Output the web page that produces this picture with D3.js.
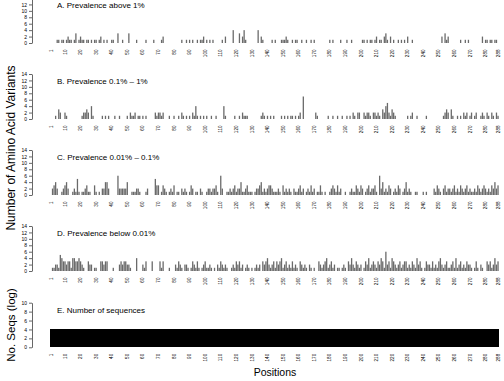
<!DOCTYPE html>
<html>
<head>
<meta charset="utf-8">
<script src="https://cdn.jsdelivr.net/npm/d3@7"></script>
<style>
  body { margin: 0; background: #fff; }
  svg text { font-family: "Liberation Sans", Arial, sans-serif; }
</style>
</head>
<body>
<div id="chart"></div>
<script>
const W = 504, H = 381;

// positions 1..288, tick labels along the bottom of each panel
const xTicks = [1, 10, 20, 30, 40, 50, 60, 70, 80, 90, 100, 110, 120, 130, 140, 150, 160, 170, 180, 190, 200, 210, 220, 230, 240, 250, 260, 270, 280, 288];

const titles = ['A. Prevalence above 1%', 'B. Prevalence 0.1% \u2013 1%', 'C. Prevalence 0.01% \u2013 0.1%', 'D. Prevalence below 0.01%', 'E. Number of sequences'];

// number of amino acid variants per position (24 per row)
const prevAbove1 = [
  0,0,0,0,1,1,0,1,1,0,1,2,1,1,0,1,3,0,1,2,1,1,0,1,
  1,0,1,0,1,1,0,1,2,0,1,0,1,0,0,1,1,0,0,3,0,0,1,0,
  0,0,3,0,0,0,0,1,0,0,0,0,0,1,0,0,0,0,1,0,0,0,0,1,
  2,0,0,0,0,0,0,0,0,0,0,0,1,0,0,1,0,1,0,1,0,0,1,0,
  1,1,2,0,1,0,1,0,1,0,0,0,0,0,1,0,2,0,0,0,0,4,0,0,
  0,3,0,2,4,1,0,0,0,0,0,0,0,4,0,2,1,0,0,0,0,0,1,0,
  1,0,0,0,1,1,1,2,1,0,0,1,0,1,1,0,0,1,0,0,1,0,0,1,
  0,1,0,0,0,0,0,0,0,0,0,1,0,1,0,0,0,0,1,0,0,0,1,0,
  0,1,0,0,0,0,0,0,1,1,0,1,0,1,1,0,1,2,0,1,1,0,2,3,
  1,0,2,0,1,0,0,1,0,1,0,1,0,2,0,0,1,0,0,0,0,0,0,0,
  0,0,0,0,0,0,0,0,0,0,0,2,0,3,1,2,0,0,0,0,0,0,0,1,
  0,0,1,0,1,0,0,0,0,0,0,0,0,2,0,1,1,0,1,1,0,1,1,0
];

const prev01to1 = [
  0,0,0,1,0,3,2,0,0,2,1,0,0,0,0,0,0,0,0,0,1,2,2,3,
  2,0,4,1,0,0,0,0,0,1,0,1,0,1,0,0,0,1,0,0,1,0,0,0,
  0,1,0,2,1,1,2,0,1,1,0,1,0,1,0,0,0,0,0,2,1,2,2,1,
  2,0,0,0,1,0,0,1,0,0,1,0,2,1,0,1,0,1,0,2,1,4,1,0,
  1,0,1,0,1,0,0,1,0,0,1,0,0,0,0,4,1,0,0,0,0,0,1,0,
  0,1,0,2,1,1,1,0,0,0,0,0,0,0,0,1,2,1,0,1,0,1,0,1,
  0,0,0,0,1,0,1,0,1,0,1,1,0,1,0,1,2,0,7,0,0,0,0,0,
  0,0,2,1,0,0,0,0,0,0,1,0,0,1,0,0,1,0,0,1,0,0,1,0,
  1,0,2,1,0,2,2,0,0,2,1,2,2,1,0,2,2,1,2,1,0,3,2,4,
  5,2,1,3,2,1,0,0,0,0,0,0,0,1,0,1,2,0,0,1,0,0,0,0,
  0,1,0,0,0,0,0,0,0,0,0,0,1,2,3,2,0,3,1,0,0,1,0,1,
  0,2,1,2,0,1,2,0,1,2,0,0,1,2,1,0,2,1,0,2,1,0,2,1
];

const prev001to01 = [
  0,2,3,4,2,0,0,1,2,3,4,2,0,0,1,2,1,5,1,0,1,1,2,3,
  1,1,0,0,3,1,0,1,0,2,2,4,4,2,0,0,0,0,0,6,2,2,2,2,
  2,4,0,0,1,1,1,2,2,1,0,0,0,1,2,0,0,0,0,5,3,3,0,1,
  3,2,1,0,1,2,1,3,0,1,1,0,2,1,2,1,0,1,3,2,0,1,1,0,
  2,1,0,0,1,2,2,1,2,2,3,1,0,6,2,0,0,1,1,2,1,2,3,1,
  2,2,4,1,1,2,3,1,1,1,0,1,2,2,3,4,1,2,1,2,3,3,2,1,
  1,1,2,1,0,3,1,2,1,2,1,0,2,1,1,2,3,1,2,0,1,2,1,3,
  1,2,0,1,1,3,1,0,1,0,0,1,2,3,2,1,3,1,2,0,0,1,0,0,
  1,2,1,1,3,2,1,3,2,0,1,2,3,1,2,2,3,1,0,6,2,4,1,2,
  1,3,2,0,1,2,1,3,2,0,1,2,4,1,2,1,0,0,1,1,0,0,0,1,
  0,1,0,0,0,0,2,1,3,2,1,0,2,3,1,2,2,1,2,3,1,2,1,3,
  2,1,2,3,1,2,1,1,2,1,3,2,1,2,3,2,1,2,1,3,2,4,2,3
];

const prevBelow001 = [
  0,1,1,2,2,1,5,4,3,3,2,3,3,1,4,4,3,3,4,3,2,1,0,0,
  3,2,2,0,1,1,0,0,3,3,2,3,3,0,0,0,1,0,0,0,2,3,2,3,
  3,2,2,1,0,0,0,4,0,0,0,2,1,3,0,0,0,3,0,0,0,0,3,1,
  3,0,0,0,1,0,0,0,2,1,3,2,1,0,2,2,1,0,1,3,2,1,3,1,
  0,1,2,3,1,1,2,1,0,1,0,2,1,3,2,1,2,1,0,0,1,2,1,3,
  2,3,1,2,0,1,2,1,0,1,0,1,2,1,2,0,3,2,3,4,2,1,2,3,
  1,3,2,3,4,1,2,3,1,2,1,3,1,2,1,0,3,2,1,2,1,0,2,1,
  0,1,0,0,3,2,1,2,3,4,1,2,3,1,2,0,1,1,0,1,2,1,0,3,
  2,4,2,1,3,2,1,2,0,1,3,2,4,1,2,3,2,1,3,2,4,3,1,6,
  2,3,1,4,3,2,1,2,3,1,2,3,3,1,2,1,3,2,1,4,2,3,1,0,
  1,3,2,2,1,3,1,2,1,3,4,2,1,2,3,1,1,2,3,1,4,1,2,3,
  1,2,1,3,2,2,1,0,1,3,1,0,2,1,0,0,3,2,3,1,2,4,2,3
];

// log10 of the number of sequences per position
const logSeqs = [
  4,4,4,4,4,4,4,4,4,4,4,4,4,4,4,4,4,4,4,4,4,4,4,4,
  4,4,4,4,4,4,4,4,4,4,4,4,4,4,4,4,4,4,4,4,4,4,4,4,
  4,4,4,4,4,4,4,4,4,4,4,4,4,4,4,4,4,4,4,4,4,4,4,4,
  4,4,4,4,4,4,4,4,4,4,4,4,4,4,4,4,4,4,4,4,4,4,4,4,
  4,4,4,4,4,4,4,4,4,4,4,4,4,4,4,4,4,4,4,4,4,4,4,4,
  4,4,4,4,4,4,4,4,4,4,4,4,4,4,4,4,4,4,4,4,4,4,4,4,
  4,4,4,4,4,4,4,4,4,4,4,4,4,4,4,4,4,4,4,4,4,4,4,4,
  4,4,4,4,4,4,4,4,4,4,4,4,4,4,4,4,4,4,4,4,4,4,4,4,
  4,4,4,4,4,4,4,4,4,4,4,4,4,4,4,4,4,4,4,4,4,4,4,4,
  4,4,4,4,4,4,4,4,4,4,4,4,4,4,4,4,4,4,4,4,4,4,4,4,
  4,4,4,4,4,4,4,4,4,4,4,4,4,4,4,4,4,4,4,4,4,4,4,4,
  4,4,4,4,4,4,4,4,4,4,4,4,4,4,4,4,4,4,4,4,4,4,4,4
];

const series = [prevAbove1, prev01to1, prev001to01, prevBelow001, logSeqs];
const positions = prevAbove1.map((d, i) => i + 1);

const svg = d3.select('#chart').append('svg')
  .attr('width', W).attr('height', H)
  .attr('viewBox', [0, 0, W, H]);
svg.append('rect').attr('width', W).attr('height', H).attr('fill', '#fff');

const x = d3.scaleBand().domain(positions).range([50.2, 498.8]).paddingInner(0.17).paddingOuter(0.08);

const axisX = 32;
const zeros = [43, 119, 195, 271, 347.3];

series.forEach((vals, p) => {
  const last = p === 4;
  const y0 = zeros[p];
  const y = last
    ? d3.scaleLinear().domain([0, 10]).range([y0, y0 - 44.6])
    : d3.scaleLinear().domain([0, 14]).range([y0, y0 - 45]);

  const g = svg.append('g');

  const bars = g.append('g').selectAll('rect')
    .data(vals.map((v, i) => ({pos: i + 1, v})).filter(d => d.v > 0))
    .join('rect')
    .attr('y', d => y(d.v))
    .attr('height', d => y(0) - y(d.v));
  if (last) {
    // sequences panel: bars touch each other, drawn solid black
    bars.attr('x', d => x(d.pos) - 0.4)
      .attr('width', x.step() + 0.8)
      .attr('fill', '#000')
      .attr('shape-rendering', 'crispEdges');
  } else {
    bars.attr('x', d => x(d.pos))
      .attr('width', x.bandwidth())
      .attr('fill', '#6a6a6a');
  }

  // panel A is cut at the top of the page, so its 14 label is not shown
  const yTicks = last ? [0, 2, 4, 6, 8, 10] : (p === 0 ? [0, 2, 4, 6, 8, 10, 12] : [0, 2, 4, 6, 8, 10, 12, 14]);
  const ax = g.append('g')
    .attr('transform', `translate(${axisX},0)`)
    .call(d3.axisLeft(y).tickValues(yTicks).tickSize(3).tickSizeOuter(0).tickPadding(2));
  ax.select('.domain').attr('stroke', '#000').attr('stroke-width', 0.6);
  ax.selectAll('.tick line').attr('stroke', '#000').attr('stroke-width', 0.6);
  ax.selectAll('.tick text').attr('font-size', 5).attr('fill', '#000')
    .attr('font-family', '"Liberation Sans", Arial, sans-serif');

  g.append('g').selectAll('text')
    .data(xTicks).join('text')
    .attr('transform', d => `translate(${x(d) + x.bandwidth() / 2},${y0 + 6.5}) rotate(-90)`)
    .attr('text-anchor', 'end')
    .attr('dy', '0.35em')
    .attr('font-size', 4.6)
    .attr('fill', '#000')
    .text(d => d);

  g.append('text')
    .attr('x', 57).attr('y', y0 - 34.6)
    .attr('font-size', 8)
    .attr('fill', '#000')
    .text(titles[p]);
});

svg.append('text')
  .attr('transform', 'translate(14.5,148) rotate(-90)')
  .attr('text-anchor', 'middle')
  .attr('font-size', 12)
  .text('Number of Amino Acid Variants');

svg.append('text')
  .attr('transform', 'translate(14.5,325) rotate(-90)')
  .attr('text-anchor', 'middle')
  .attr('font-size', 11.5)
  .text('No. Seqs (log)');

svg.append('text')
  .attr('x', 275).attr('y', 376)
  .attr('text-anchor', 'middle')
  .attr('font-size', 10.5)
  .text('Positions');
</script>
</body>
</html>
